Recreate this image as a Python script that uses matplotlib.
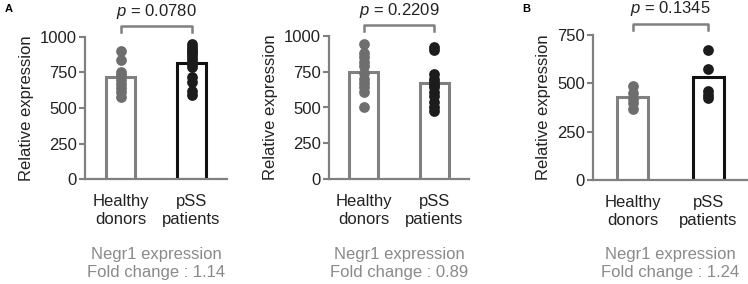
import matplotlib
matplotlib.use("Agg")
import matplotlib.pyplot as plt

plt.rcParams['font.family'] = ['Liberation Sans', 'DejaVu Sans']
plt.rcParams['font.size'] = 12
plt.rcParams['mathtext.fontset'] = 'custom'
plt.rcParams['mathtext.it'] = 'Liberation Sans:italic'
plt.rcParams['mathtext.rm'] = 'Liberation Sans'

groups = ["Healthy\ndonors", "pSS\npatients"]

# panel A (left): relative expression per sample
a1_healthy = [900, 840, 750, 730, 700, 670, 640, 610, 580]
a1_pss = [950, 930, 910, 900, 890, 870, 850, 830, 810, 790, 720, 680, 620, 590]
a1_means = [718, 818]

# panel A (right)
a2_healthy = [945, 880, 850, 820, 790, 740, 700, 670, 640, 610, 500]
a2_pss = [920, 900, 735, 700, 680, 660, 640, 610, 580, 540, 500, 475]
a2_means = [745, 668]

# panel B
b_healthy = [485, 450, 420, 400, 365]
b_pss = [670, 575, 460, 440, 425]
b_means = [430, 535]

p_values = ["0.0780", "0.2209", "0.1345"]
fold_changes = ["1.14", "0.89", "1.24"]

GRAY = "#808080"
DOT_GRAY = "#6e6e6e"
DOT_BLACK = "#1c1c1c"
TEXT_GRAY = "#8a8a8a"

W, H = 748, 284
fig = plt.figure(figsize=(W / 100, H / 100), dpi=100)


def px_axes(left, top, right, bottom):
    return fig.add_axes([left / W, 1 - bottom / H, (right - left) / W, (bottom - top) / H])


def draw_panel(ax, healthy, pss, means, ymax, yticks, pss_edge, pval, fc, xpad):
    x = [0, 1]
    edges = [GRAY, pss_edge]
    ax.bar(x, means, width=0.41, color="white", edgecolor=edges, linewidth=2.2, zorder=2)
    ax.scatter([0] * len(healthy), healthy, s=60, color=DOT_GRAY, zorder=3, clip_on=False, linewidths=0)
    ax.scatter([1] * len(pss), pss, s=60, color=DOT_BLACK, zorder=3, clip_on=False, linewidths=0)

    ax.set_xlim(-xpad, 1 + xpad)
    ax.set_ylim(0, ymax)
    ax.set_yticks(yticks)
    ax.set_xticks(x, groups)
    ax.tick_params(axis="x", length=0, pad=11, colors="#222222")
    ax.tick_params(axis="y", direction="out", length=4, width=1.5, colors="#222222", pad=2)
    ax.tick_params(axis="y", color=GRAY)
    for s in ["top", "right"]:
        ax.spines[s].set_visible(False)
    for s in ["left", "bottom"]:
        ax.spines[s].set_color(GRAY)
        ax.spines[s].set_linewidth(1.6)
    ax.set_ylabel("Relative expression", labelpad=4, color="#222222")

    # significance bracket
    y0 = ymax * 1.035
    y1 = ymax * 1.075
    ax.plot([0, 0, 1, 1], [y0, y1, y1, y0], color=GRAY, lw=1.8, clip_on=False)
    ax.text(0.5, ymax * 1.115, r"$\it{p}$ = " + pval, ha="center", va="bottom", fontsize=12, color="#222222")

    pos = ax.get_position()
    fig.text((pos.x0 + pos.x1) / 2, 1 - 247 / H, "Negr1 expression\nFold change : " + fc,
             ha="center", va="top", color=TEXT_GRAY, fontsize=12, linespacing=1.25)


ax1 = px_axes(85, 37, 227, 179)
draw_panel(ax1, a1_healthy, a1_pss, a1_means, 1000, [0, 250, 500, 750, 1000], "#111111", p_values[0], fold_changes[0], 0.5)

ax2 = px_axes(329, 36, 469, 179)
draw_panel(ax2, a2_healthy, a2_pss, a2_means, 1000, [0, 250, 500, 750, 1000], GRAY, p_values[1], fold_changes[1], 0.49)

ax3 = px_axes(593, 35, 748, 180)
draw_panel(ax3, b_healthy, b_pss, b_means, 750, [0, 250, 500, 750], "#111111", p_values[2], fold_changes[2], 0.52)

fig.text(5 / W, 1 - 4 / H, "A", fontsize=8, fontweight="bold", va="top", ha="left")
fig.text(522 / W, 1 - 4 / H, "B", fontsize=8, fontweight="bold", va="top", ha="left")

fig.savefig("out.png", dpi=100)
